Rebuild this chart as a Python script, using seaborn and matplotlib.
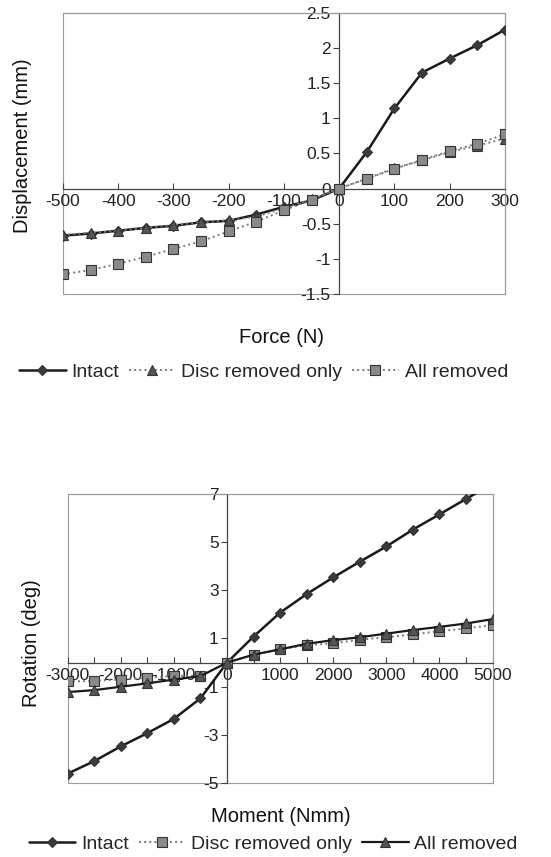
import numpy as np
import pandas as pd
import matplotlib
matplotlib.use("Agg")
import matplotlib.pyplot as plt
import seaborn as sns
from matplotlib.patches import Rectangle
from matplotlib.ticker import FuncFormatter

# =========================================
# data
# =========================================
force = [-500, -450, -400, -350, -300, -250, -200, -150, -100, -50,
         0, 50, 100, 150, 200, 250, 300]
disp_intact = [-0.67, -0.64, -0.60, -0.56, -0.53, -0.48, -0.46, -0.37, -0.26, -0.17,
               0.0, 0.52, 1.14, 1.65, 1.85, 2.04, 2.26]
disp_disc = [-0.66, -0.63, -0.60, -0.56, -0.52, -0.48, -0.45, -0.40, -0.28, -0.15,
             0.0, 0.14, 0.29, 0.40, 0.52, 0.61, 0.71]
disp_all = [-1.22, -1.16, -1.07, -0.97, -0.86, -0.75, -0.61, -0.47, -0.31, -0.16,
            0.0, 0.14, 0.28, 0.41, 0.53, 0.64, 0.77]

moment = [-3000, -2500, -2000, -1500, -1000, -500, 0, 500, 1000, 1500,
          2000, 2500, 3000, 3500, 4000, 4500, 5000]
rot_intact = [-4.60, -4.08, -3.47, -2.92, -2.33, -1.48, 0.0, 1.08, 2.07, 2.84,
              3.53, 4.18, 4.81, 5.51, 6.14, 6.78, 7.40]
rot_disc = [-0.78, -0.76, -0.70, -0.63, -0.55, -0.54, 0.0, 0.32, 0.55, 0.72,
            0.80, 0.95, 1.05, 1.17, 1.30, 1.42, 1.55]
rot_all = [-1.22, -1.14, -1.00, -0.86, -0.70, -0.56, 0.0, 0.33, 0.55, 0.78,
           0.93, 1.05, 1.20, 1.35, 1.48, 1.62, 1.80]

top_xticks = list(range(-500, 301, 100))
top_yticks = [-1.5, -1, -0.5, 0, 0.5, 1, 1.5, 2, 2.5]
bot_xticks = list(range(-3000, 5001, 500))
bot_yticks = [-5, -3, -1, 1, 3, 5, 7]

sns.set_theme(style="white")
plt.rcParams['font.family'] = ['Liberation Sans', 'DejaVu Sans']
plt.rcParams['axes.unicode_minus'] = False

fig = plt.figure(figsize=(5.51, 8.57), dpi=100)
ax1 = fig.add_axes([0.1143, 0.657, 0.802, 0.328])
ax2 = fig.add_axes([0.1229, 0.086, 0.771, 0.338])

INK = "#1a1a1a"
GREY = "#7a7a7a"
MK_GREY = "#8a8a8a"


def draw(ax, x, y, label, marker, color, ls, lw, mfc, ms):
    sns.lineplot(x=x, y=y, ax=ax, label=label, marker=marker, color=color,
                 linestyle=ls, linewidth=lw, markersize=ms, markerfacecolor=mfc,
                 markeredgecolor="#333333", markeredgewidth=0.8,
                 estimator=None, sort=False, zorder=3)


def frame(ax):
    ax.spines['left'].set_position(('data', 0))
    ax.spines['bottom'].set_position(('data', 0))
    for s in ['left', 'bottom']:
        ax.spines[s].set_color("#444444")
        ax.spines[s].set_linewidth(0.9)
    for s in ['top', 'right']:
        ax.spines[s].set_color("#9a9a9a")
        ax.spines[s].set_linewidth(0.8)
    ax.add_patch(Rectangle((0, 0), 1, 1, transform=ax.transAxes, fill=False,
                           ec="#9a9a9a", lw=0.8, clip_on=False, zorder=0))
    ax.tick_params(axis='x', direction='in', length=4, width=0.8, color="#444444",
                   labelsize=12.5, pad=4, bottom=True, labelcolor="#222222")
    ax.tick_params(axis='y', direction='out', length=4, width=0.8, color="#444444",
                   labelsize=12.5, pad=2, left=True, labelcolor="#222222")
    ax.set_xlabel("")
    ax.set_ylabel("")


# ---- top panel: force vs displacement
draw(ax1, force, disp_intact, "Intact", "D", INK, "-", 1.8, "#3a3a3a", 5.5)
draw(ax1, force, disp_disc, "Disc removed only", "^", GREY, ":", 1.4, "#555555", 6.5)
draw(ax1, force, disp_all, "All removed", "s", GREY, ":", 1.4, MK_GREY, 6.5)
ax1.set_xlim(-500, 300)
ax1.set_ylim(-1.5, 2.5)
ax1.set_xticks(top_xticks)
ax1.set_yticks(top_yticks)
ax1.yaxis.set_major_formatter(FuncFormatter(lambda v, p: "%g" % v))
frame(ax1)
h1, l1 = ax1.get_legend_handles_labels()
ax1.get_legend().remove()

# ---- bottom panel: moment vs rotation
draw(ax2, moment, rot_intact, "Intact", "D", INK, "-", 1.8, "#3a3a3a", 5.5)
draw(ax2, moment, rot_disc, "Disc removed only", "s", GREY, ":", 1.4, MK_GREY, 6.5)
draw(ax2, moment, rot_all, "All removed", "^", INK, "-", 1.6, "#555555", 6.5)
ax2.set_xlim(-3000, 5000)
ax2.set_ylim(-5, 7)
ax2.set_xticks(bot_xticks)
ax2.set_xticklabels([str(v) if v % 1000 == 0 else "" for v in bot_xticks])
ax2.set_yticks(bot_yticks)
frame(ax2)
h2, l2 = ax2.get_legend_handles_labels()
ax2.get_legend().remove()

# ---- titles and legends
fig.text(0.040, 0.830, "Displacement (mm)", rotation=90, ha='center', va='center',
         fontsize=14.5, color="#111111")
fig.text(0.511, 0.606, "Force (N)", ha='center', va='center', fontsize=14.5,
         color="#111111")
fig.legend(h1, l1, loc='center', bbox_to_anchor=(0.478, 0.566), ncol=3,
           frameon=False, fontsize=14, handlelength=2.4, handletextpad=0.3,
           columnspacing=0.5, numpoints=1)

fig.text(0.058, 0.250, "Rotation (deg)", rotation=90, ha='center', va='center',
         fontsize=14.5, color="#111111")
fig.text(0.510, 0.047, "Moment (Nmm)", ha='center', va='center', fontsize=14.5,
         color="#111111")
fig.legend(h2, l2, loc='center', bbox_to_anchor=(0.496, 0.015), ncol=3,
           frameon=False, fontsize=14, handlelength=2.4, handletextpad=0.3,
           columnspacing=0.5, numpoints=1)

fig.savefig("out.png", dpi=100, facecolor="white")
